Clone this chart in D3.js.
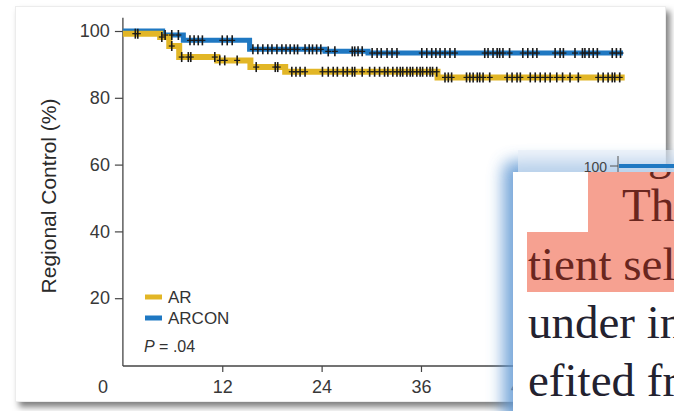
<!DOCTYPE html>
<html>
<head>
<meta charset="utf-8">
<script src="https://cdn.jsdelivr.net/npm/d3@7/dist/d3.min.js"></script>
<style>
  body { margin: 0; background: #fff; }
  svg { display: block; }
</style>
</head>
<body>
<div id="chart"></div>
<script>
// Kaplan-Meier steps (months, %)
const AR_TIMES = [0, 4.5, 5.6, 6.8, 11.4, 15.4, 19.6, 38.0];
const AR_SURV = [99.2, 98.2, 95.5, 92.2, 91.2, 89.2, 87.8, 86.1];
const AR_END = 60.6;
const ARCON_TIMES = [0, 4.8, 7.3, 15.3, 24.4, 29.6];
const ARCON_SURV = [100, 98.8, 97.2, 94.5, 93.9, 93.4];
const ARCON_END = 60.4;

// censored observations (months)
const AR_CENSOR = [1.5, 1.8, 4.7, 5.9, 7.1, 7.9, 8.2, 11.1, 11.7, 12.3, 13.8, 16.1, 18.4, 18.7,
  20.4, 20.9, 21.4, 22.0, 24.1, 24.8, 25.4, 25.9, 26.6, 27.1, 27.7, 28.0, 28.9, 29.8, 30.4,
  31.0, 31.6, 32.0, 32.6, 33.1, 33.5, 33.8, 34.3, 34.7, 35.0, 35.5, 35.9, 36.2, 36.7, 37.1,
  37.4, 37.9, 38.9, 39.3, 39.7, 41.5, 41.9, 42.3, 42.8, 43.1, 43.5, 44.3, 46.4, 47.0, 47.6,
  48.0, 49.2, 49.8, 50.4, 51.0, 51.6, 52.4, 53.1, 54.0, 55.0, 57.4, 58.0, 58.6, 59.1, 59.4, 60.0];
const ARCON_CENSOR = [5.1, 5.9, 6.7, 8.1, 8.6, 9.1, 9.6, 12.0, 12.6, 13.2, 15.7, 16.3, 16.9, 17.5,
  18.0, 18.6, 19.2, 19.7, 20.2, 20.7, 21.1, 22.0, 22.5, 22.9, 23.4, 23.9, 24.8, 25.6, 27.7,
  28.0, 28.4, 28.9, 30.1, 30.7, 31.2, 31.9, 32.5, 33.1, 36.1, 36.7, 37.3, 37.8, 38.3, 38.9,
  39.5, 40.1, 43.7, 44.1, 44.7, 45.2, 45.5, 45.9, 46.7, 48.3, 48.9, 49.5, 50.0, 52.2, 52.8,
  53.2, 54.6, 55.5, 55.8, 56.3, 56.8, 57.3, 59.1, 59.6, 60.1];

const Y_TICKS = [20, 40, 60, 80, 100];
const X_TICKS = [12, 24, 36, 48, 60];
const SERIES_NAMES = ['AR', 'ARCON'];
const P_VALUE = '.04';
const Y_TITLE = 'Regional Control (%)';
const PAGE_LINES = ['Th', 'tient sel', 'under in', 'efited fr'];

const W = 674, H = 411;
const YELLOW = '#e2b626', BLUE = '#1f78c2';
const sans = '"Liberation Sans", Arial, sans-serif';
const serif = '"Liberation Serif", "DejaVu Serif", serif';

const svg = d3.select('#chart').append('svg')
  .attr('width', W).attr('height', H)
  .attr('viewBox', `0 0 ${W} ${H}`);

const defs = svg.append('defs');
defs.append('filter').attr('id', 'panelShadow')
  .attr('x', '-5%').attr('y', '-5%').attr('width', '115%').attr('height', '115%')
  .html('<feDropShadow dx="4" dy="5" stdDeviation="3" flood-color="#000" flood-opacity="0.5"/>');
defs.append('filter').attr('id', 'glow')
  .attr('x', '-30%').attr('y', '-30%').attr('width', '160%').attr('height', '160%')
  .html('<feGaussianBlur stdDeviation="8"/>');
defs.append('clipPath').attr('id', 'boxClip')
  .append('rect').attr('x', 513).attr('y', 172).attr('width', 161).attr('height', 239);

// page panel
svg.append('rect')
  .attr('x', 15.5).attr('y', 6.5).attr('width', 650).attr('height', 395)
  .attr('fill', '#fff').attr('stroke', '#ececec')
  .attr('filter', 'url(#panelShadow)');

const x = d3.scaleLinear().domain([0, 60]).range([122.9, 122.9 + 8.28 * 60]);
const y = d3.scaleLinear().domain([0, 100]).range([365, 31]);

const g = svg.append('g');

// axes
const yAxis = d3.axisLeft(y).tickValues(Y_TICKS).tickSize(8).tickPadding(5);
const yg = g.append('g').attr('transform', `translate(${x(0)},0)`).call(yAxis);
const xAxis = d3.axisBottom(x).tickValues(X_TICKS).tickSize(6).tickPadding(8);
const xg = g.append('g').attr('transform', `translate(0,${y(0) + 1})`).call(xAxis);
[yg, xg].forEach((a) => {
  a.select('.domain').remove();
  a.selectAll('line').attr('stroke', '#444').attr('stroke-width', 1.2);
  a.selectAll('text').attr('font-family', sans).attr('font-size', 18).attr('fill', '#383838');
});
g.append('line')
  .attr('x1', x(0)).attr('x2', x(0)).attr('y1', y(104)).attr('y2', y(0) + 1)
  .attr('stroke', '#444').attr('stroke-width', 1.3);
g.append('line')
  .attr('x1', x(0)).attr('x2', x(64)).attr('y1', y(0) + 1).attr('y2', y(0) + 1)
  .attr('stroke', '#444').attr('stroke-width', 1.3);
g.append('text')
  .attr('x', 103).attr('y', y(0) + 28)
  .attr('text-anchor', 'middle')
  .attr('font-family', sans).attr('font-size', 18).attr('fill', '#383838')
  .text('0');

g.append('text')
  .attr('transform', `translate(56,196) rotate(-90)`)
  .attr('text-anchor', 'middle')
  .attr('font-family', sans).attr('font-size', 21).attr('fill', '#2a2a2a')
  .text(Y_TITLE);

// curves
function stepPoints(times, surv, end) {
  const pts = times.map((t, i) => [t, surv[i]]);
  pts.push([end, surv[surv.length - 1]]);
  return pts;
}
function survAt(times, surv, t) {
  let v = surv[0];
  times.forEach((tt, i) => { if (tt <= t) v = surv[i]; });
  return v;
}
const line = d3.line()
  .x((d) => x(d[0]))
  .y((d) => y(d[1]))
  .curve(d3.curveStepAfter);

g.append('path')
  .attr('d', line(stepPoints(ARCON_TIMES, ARCON_SURV, ARCON_END)))
  .attr('fill', 'none').attr('stroke', BLUE).attr('stroke-width', 5);
g.append('path')
  .attr('d', line(stepPoints(AR_TIMES, AR_SURV, AR_END)))
  .attr('fill', 'none').attr('stroke', YELLOW).attr('stroke-width', 6);

function drawCensor(times, surv, censor) {
  const cg = g.append('g').attr('stroke', '#1a1a1a');
  censor.forEach((t) => {
    const cx = x(t), cy = y(survAt(times, surv, t));
    cg.append('line').attr('x1', cx).attr('x2', cx).attr('y1', cy - 5).attr('y2', cy + 5)
      .attr('stroke-width', 1.6);
    cg.append('line').attr('x1', cx - 3).attr('x2', cx + 3).attr('y1', cy).attr('y2', cy)
      .attr('stroke-width', 1.2);
  });
}
drawCensor(ARCON_TIMES, ARCON_SURV, ARCON_CENSOR);
drawCensor(AR_TIMES, AR_SURV, AR_CENSOR);

// legend
const legend = g.append('g').attr('font-family', sans).attr('font-size', 17).attr('fill', '#333');
[YELLOW, BLUE].forEach((c, i) => {
  const ly = 297 + i * 21;
  legend.append('line').attr('x1', 145).attr('x2', 162).attr('y1', ly).attr('y2', ly)
    .attr('stroke', c).attr('stroke-width', 5);
  legend.append('text').attr('x', 168).attr('y', ly + 6).text(SERIES_NAMES[i]);
});
const pt = legend.append('text').attr('x', 144).attr('y', 352).attr('font-size', 16);
pt.append('tspan').attr('font-style', 'italic').text('P');
pt.append('tspan').text(' = ' + P_VALUE);

// overlaid page snippet
svg.append('rect')
  .attr('x', 503).attr('y', 161).attr('width', 200).attr('height', 270).attr('rx', 10)
  .attr('fill', '#5f97d3').attr('opacity', 0.85)
  .attr('filter', 'url(#glow)');
svg.append('rect')
  .attr('x', 518).attr('y', 150).attr('width', 160).attr('height', 22)
  .attr('fill', '#e4edf7').attr('opacity', 0.6);

const inset = svg.append('g');
inset.append('line').attr('x1', 618).attr('x2', 618).attr('y1', 156).attr('y2', 172)
  .attr('stroke', '#555').attr('stroke-width', 1);
inset.append('line').attr('x1', 610).attr('x2', 618).attr('y1', 166).attr('y2', 166)
  .attr('stroke', '#555').attr('stroke-width', 1);
inset.append('line').attr('x1', 619).attr('x2', 674).attr('y1', 166).attr('y2', 166)
  .attr('stroke', BLUE).attr('stroke-width', 4);
inset.append('text').attr('x', 607).attr('y', 172).attr('text-anchor', 'end')
  .attr('font-family', sans).attr('font-size', 14).attr('fill', '#444').text('100');

svg.append('rect').attr('x', 513).attr('y', 172).attr('width', 161).attr('height', 239)
  .attr('fill', '#fff');
svg.append('rect').attr('x', 588).attr('y', 172).attr('width', 86).attr('height', 60)
  .attr('fill', '#f6a191');
svg.append('rect').attr('x', 527).attr('y', 232).attr('width', 147).attr('height', 60)
  .attr('fill', '#f6a191');

const page = svg.append('g').attr('clip-path', 'url(#boxClip)')
  .attr('font-family', serif).attr('font-size', 47);
page.append('text').attr('x', 648).attr('y', 169).attr('fill', '#6a261e').text('g');
const lineX = [622, 528, 528, 528];
const lineY = [221, 280, 338, 396];
const lineFill = ['#6a261e', '#6a261e', '#23222f', '#23222f'];
PAGE_LINES.forEach((s, i) => {
  page.append('text').attr('x', lineX[i]).attr('y', lineY[i]).attr('fill', lineFill[i]).text(s);
});
</script>
</body>
</html>
